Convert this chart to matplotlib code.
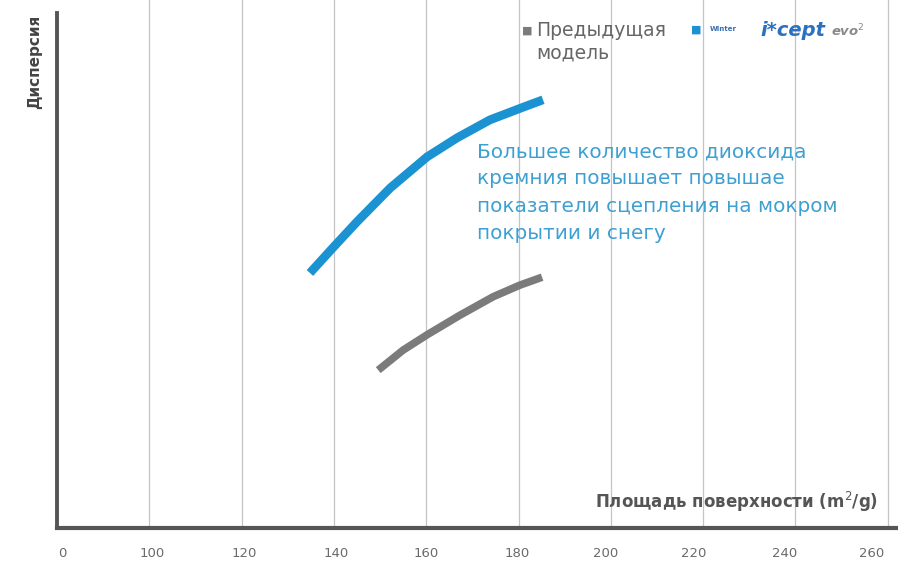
import matplotlib
matplotlib.use("Agg")
import matplotlib.pyplot as plt
from matplotlib.transforms import ScaledTranslation

# data (surface area m2/g vs dispersion, arbitrary units 0-100)
tick_values = [80, 100, 120, 140, 160, 180, 200, 220, 240, 260]
tick_labels = ['0', '100', '120', '140', '160', '180', '200', '220', '240', '260']
new_x = [134.8, 139.8, 145.0, 152.2, 160.2, 166.7, 173.8, 181.0, 185.3]
new_y = [48.3, 53.1, 58.0, 64.4, 70.3, 73.9, 77.3, 79.7, 81.1]
old_x = [149.6, 155.0, 160.2, 167.3, 174.5, 180.3, 185.1]
old_y = [29.9, 33.7, 36.6, 40.3, 43.8, 46.0, 47.5]

W, H = 898, 565
fig = plt.figure(figsize=(W / 100, H / 100), dpi=100)
ax = fig.add_axes([57 / W, 37 / H, (897 - 57) / W, 528 / H])
ax.set_xlim(80, 262)
ax.set_ylim(0, 100)

blue = '#1b93d3'
grey = '#7b7b7b'
axis_c = '#555555'

for v in tick_values[1:]:
    ax.axvline(v, color='#c4c4c4', lw=0.9, zorder=1)

ax.plot(new_x, new_y, color=blue, lw=6.3, solid_capstyle='butt',
        solid_joinstyle='round', zorder=3)
ax.plot(old_x, old_y, color=grey, lw=5.5, solid_capstyle='butt',
        solid_joinstyle='round', zorder=3)

for s in ['top', 'right']:
    ax.spines[s].set_visible(False)
ax.spines['left'].set_color(axis_c)
ax.spines['left'].set_linewidth(2.8)
ax.spines['left'].set_bounds(0, 97.5)
ax.spines['bottom'].set_color(axis_c)
ax.spines['bottom'].set_linewidth(3)
ax.set_yticks([])
ax.set_xticks(tick_values)
ax.set_xticklabels(tick_labels, color='#6a6a6a', fontsize=9.5,
                   family='DejaVu Sans Condensed')
ax.tick_params(axis='x', length=0, pad=14)
label_dx = [5, 3, 3, 2, 0, -1, -5, -9, -11, -16]
for lab, dx in zip(ax.get_xticklabels(), label_dx):
    lab.set_transform(lab.get_transform() + ScaledTranslation(dx / 100, 0, fig.dpi_scale_trans))

# axis titles
fig.text(35 / W, 1 - 62 / H, 'Дисперсия', rotation=90, ha='center', va='center',
         fontsize=11, fontweight='bold', color='#444444', family='DejaVu Sans Condensed')
fig.text(878 / W, 1 - 502 / H, 'Площадь поверхности (m$^2$/g)', ha='right', va='center',
         fontsize=12, fontweight='bold', color='#555555', family='DejaVu Sans Condensed')

# annotation
fig.text(477 / W, 1 - 142 / H,
         'Большее количество диоксида\nкремния повышает повышае\nпоказатели сцепления на мокром\nпокрытии и снегу',
         ha='left', va='top', fontsize=14.4, color='#3d9fd2', linespacing=1.55)

# legend
fig.text(527 / W, 1 - 31 / H, '■', ha='center', va='center', fontsize=8, color=grey)
fig.text(536 / W, 1 - 31 / H, 'Предыдущая', ha='left', va='center', fontsize=13.5, color='#666666')
fig.text(536 / W, 1 - 53 / H, 'модель', ha='left', va='center', fontsize=13.5, color='#666666')
fig.text(696 / W, 1 - 30 / H, '■', ha='center', va='center', fontsize=8, color=blue)
fig.text(710 / W, 1 - 29 / H, 'Winter', ha='left', va='center', fontsize=5,
         fontweight='bold', color='#3a6fb0')
fig.text(760 / W, 1 - 30 / H, 'i*cept', ha='left', va='center', fontsize=14,
         fontweight='bold', style='italic', color='#2a72c0')
fig.text(831 / W, 1 - 31 / H, 'evo$^2$', ha='left', va='center', fontsize=9.5,
         style='italic', fontweight='bold', color='#8a8a8a')

fig.savefig('out.png', dpi=100)
